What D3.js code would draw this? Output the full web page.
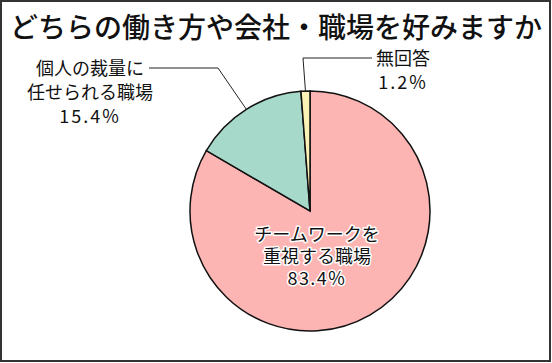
<!DOCTYPE html>
<html>
<head>
<meta charset="utf-8">
<script src="https://cdn.jsdelivr.net/npm/d3@7"></script>
<style>
  body { margin: 0; background: #fff; }
  svg { display: block; }
</style>
</head>
<body>
<div id="chart"></div>
<script>
// data
const title = "どちらの働き方や会社・職場を好みますか";
const categories = ["チームワークを重視する職場", "個人の裁量に任せられる職場", "無回答"];
const values = [83.4, 15.4, 1.2];
const labelLines = [
    ["チームワークを", "重視する職場"],
    ["個人の裁量に", "任せられる職場"],
    ["無回答"]
];
const colors = ["#fdb5b3", "#a7d9cb", "#fdf2b5"];

const width = 552, height = 363;
const cx = 310, cy = 211, radius = 120;

const svg = d3.select("#chart")
    .append("svg")
    .attr("width", width)
    .attr("height", height)
    .style("font-family", "'Noto Sans CJK JP', sans-serif");

// frame
svg.append("rect")
    .attr("x", 1).attr("y", 1)
    .attr("width", width - 3).attr("height", height - 3)
    .attr("fill", "#fff")
    .attr("stroke", "#333")
    .attr("stroke-width", 2);

// title
svg.append("text")
    .attr("x", 10)
    .attr("y", 38)
    .style("font-size", "28px")
    .style("font-weight", 500)
    .attr("fill", "#111")
    .text(title);

const data = categories.map((c, i) => ({name: c, value: values[i], lines: labelLines[i], color: colors[i]}));

const pie = d3.pie()
    .value(d => d.value)
    .sort(null);

const arc = d3.arc()
    .innerRadius(0)
    .outerRadius(radius);

const arcs = pie(data);

const g = svg.append("g")
    .attr("transform", `translate(${cx},${cy})`);

g.selectAll("path")
    .data(arcs)
    .join("path")
    .attr("d", arc)
    .attr("fill", d => d.data.color)
    .attr("stroke", "#111")
    .attr("stroke-width", 1.5);

// point on the rim at the middle of a slice
function rimPoint(d) {
    const a = (d.startAngle + d.endAngle) / 2;
    return d3.pointRadial(a, radius);
}

// inside label for the big slice, a bit below the centre
const big = arcs[0];
const bigPos = d3.pointRadial(Math.PI * 0.953, 47);
big.data.lines.concat([big.data.value.toFixed(1) + "%"]).forEach((t, i) => {
    g.append("text")
        .attr("text-anchor", "middle")
        .attr("x", bigPos[0])
        .attr("y", bigPos[1] - 16 + i * 22)
        .style("font-size", "18px")
        .style("letter-spacing", i == 2 ? "1.5px" : null)
        .attr("fill", "#111")
        .attr("stroke", "#fff")
        .attr("stroke-width", 3)
        .attr("paint-order", "stroke")
        .attr("stroke-linejoin", "round")
        .text(t);
});

// outside label: 個人の裁量に
const mid = arcs[1];
const mp = rimPoint(mid);
const elbow1 = [-92, -143];
g.append("polyline")
    .attr("points", [mp, elbow1, [elbow1[0] - 69, elbow1[1]]].map(p => p.join(",")).join(" "))
    .attr("fill", "none")
    .attr("stroke", "#222")
    .attr("stroke-width", 1);
mid.data.lines.concat([mid.data.value.toFixed(1) + "%"]).forEach((t, i) => {
    g.append("text")
        .attr("text-anchor", "middle")
        .attr("x", -220)
        .attr("y", -136 + i * 24)
        .style("font-size", "18px")
        .style("letter-spacing", i == 2 ? "2px" : null)
        .attr("fill", "#111")
        .text(t);
});

// outside label: 無回答
const sm = arcs[2];
const sp = rimPoint(sm);
const elbow2 = [-7, -153];
g.append("polyline")
    .attr("points", [sp, elbow2, [elbow2[0] + 69, elbow2[1]]].map(p => p.join(",")).join(" "))
    .attr("fill", "none")
    .attr("stroke", "#222")
    .attr("stroke-width", 1);
sm.data.lines.concat([sm.data.value.toFixed(1) + "%"]).forEach((t, i) => {
    g.append("text")
        .attr("text-anchor", "middle")
        .attr("x", 93)
        .attr("y", -146 + i * 24)
        .style("font-size", "18px")
        .style("letter-spacing", i == 1 ? "2px" : null)
        .attr("fill", "#111")
        .text(t);
});
</script>
</body>
</html>
